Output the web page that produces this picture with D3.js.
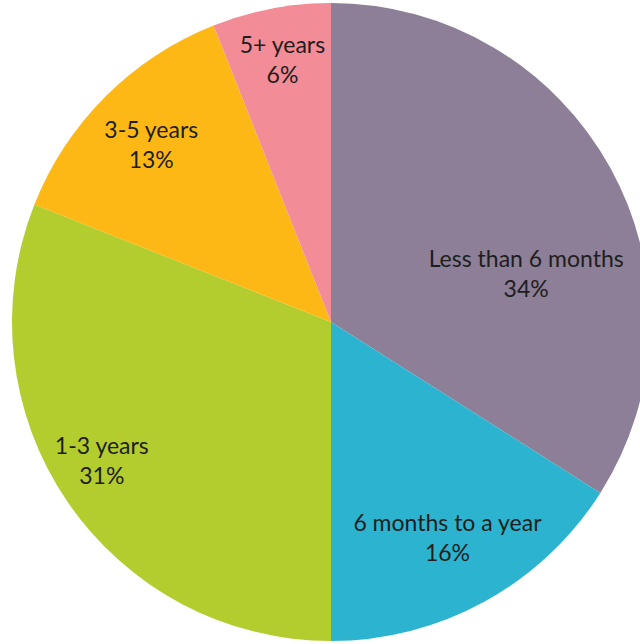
<!DOCTYPE html>
<html>
<head>
<meta charset="utf-8">
<script src="https://cdn.jsdelivr.net/npm/d3@7"></script>
<style>
  html, body { margin: 0; padding: 0; background: #ffffff; }
  svg { display: block; }
</style>
</head>
<body>
<svg id="chart" width="640" height="644"></svg>
<script>
// Time spent, share of respondents (%)
const categories = ["Less than 6 months", "6 months to a year", "1-3 years", "3-5 years", "5+ years"];
const values = [34, 16, 31, 13, 6];
const colors = ["#8c7f97", "#2cb3cf", "#b3cd2e", "#fdb815", "#f28c96"];

// Label placement for each slice: angle shift (degrees) from the slice middle and radius fraction
const labelPlacement = [
  { shift: 15, r: 0.63 },
  { shift: 0.5, r: 0.77 },
  { shift: 3, r: 0.84 },
  { shift: -0.5, r: 0.79 },
  { shift: 0.3, r: 0.835 }
];

const width = 640, height = 644;
const cx = 331, cy = 322, radius = 319;

const data = categories.map((c, i) => ({ category: c, value: values[i], color: colors[i] }));

const svg = d3.select("#chart");
const g = svg.append("g").attr("transform", `translate(${cx},${cy})`);

const pie = d3.pie().value(d => d.value).sort(null);
const arc = d3.arc().innerRadius(0).outerRadius(radius);
const arcs = pie(data);

g.selectAll("path.slice")
  .data(arcs)
  .join("path")
  .attr("class", "slice")
  .attr("d", arc)
  .attr("fill", d => d.data.color);

const labels = g.selectAll("text.label")
  .data(arcs)
  .join("text")
  .attr("class", "label")
  .attr("text-anchor", "middle")
  .attr("font-family", "Lato, 'Open Sans', sans-serif")
  .attr("font-size", 23)
  .attr("fill", "#1e1e1e")
  .attr("transform", (d, i) => {
    const p = labelPlacement[i];
    const a = (d.startAngle + d.endAngle) / 2 + p.shift * Math.PI / 180;
    const rr = radius * p.r;
    return `translate(${rr * Math.sin(a)},${-rr * Math.cos(a)})`;
  });

labels.append("tspan")
  .attr("x", 0)
  .attr("y", -7)
  .text(d => d.data.category);

labels.append("tspan")
  .attr("x", 0)
  .attr("y", 23)
  .text(d => d.data.value + "%");
</script>
</body>
</html>
